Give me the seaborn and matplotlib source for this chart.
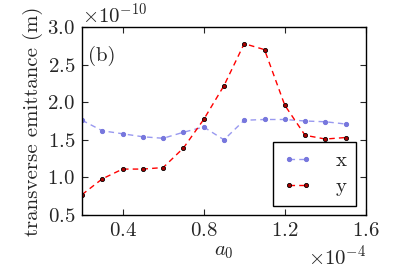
import numpy as np
import pandas as pd
import matplotlib
matplotlib.use("Agg")
import matplotlib.pyplot as plt
import seaborn as sns

# a0 values (x 1e-4) and emittances (x 1e-10 m)
a0 = [0.2, 0.3, 0.4, 0.5, 0.6, 0.7, 0.8, 0.9, 1.0, 1.1, 1.2, 1.3, 1.4, 1.5]
emit_x = [1.76, 1.62, 1.58, 1.54, 1.52, 1.60, 1.67, 1.50, 1.76, 1.77, 1.77, 1.75, 1.74, 1.71]
emit_y = [0.77, 0.98, 1.11, 1.11, 1.13, 1.39, 1.77, 2.22, 2.78, 2.70, 1.96, 1.56, 1.51, 1.53]

df = pd.DataFrame({
    "a0": np.array(a0) * 1e-4,
    "x": np.array(emit_x) * 1e-10,
    "y": np.array(emit_y) * 1e-10,
})

sns.set_style("ticks")
plt.rcParams["font.family"] = ["cmr10", "DejaVu Serif"]
plt.rcParams["mathtext.fontset"] = "cm"
plt.rcParams["axes.formatter.use_mathtext"] = True
plt.rcParams["font.size"] = 15

fig, ax = plt.subplots(figsize=(4.07, 2.71), dpi=100)

sns.lineplot(data=df, x="a0", y="x", ax=ax, color="#9999f0", linestyle=(0, (4, 3)),
             marker="o", markersize=3, markerfacecolor="#7777dd", markeredgecolor="#7777dd",
             linewidth=1, label="x")
sns.lineplot(data=df, x="a0", y="y", ax=ax, color="red", linestyle=(0, (4, 3)),
             marker="o", markersize=3, markerfacecolor="#aa0000", markeredgecolor="black",
             markeredgewidth=0.6, linewidth=1, label="y")

ax.set_xlim(0.2e-4, 1.6e-4)
ax.set_ylim(0.5e-10, 3.0e-10)
ax.set_xticks(np.array([0.4, 0.8, 1.2, 1.6]) * 1e-4)
ax.set_yticks(np.arange(0.5, 3.01, 0.5) * 1e-10)
ax.ticklabel_format(axis="both", style="sci", scilimits=(0, 0))
ax.tick_params(direction="in", top=True, right=True, length=4, width=0.8, pad=5)
for s in ax.spines.values():
    s.set_linewidth(1)
    s.set_color("black")

ax.set_xlabel("$a_0$", labelpad=2)
ax.set_ylabel("transverse emittance (m)", labelpad=3)
ax.text(0.02, 0.82, "(b)", transform=ax.transAxes)

leg = ax.legend(loc="lower right", numpoints=2, handlelength=1.45, fancybox=False,
                edgecolor="black", framealpha=1, borderpad=0.45, labelspacing=0.35,
                handletextpad=1.1, borderaxespad=0, bbox_to_anchor=(0.965, 0.05))
leg.get_frame().set_linewidth(1)

plt.subplots_adjust(left=0.2015, right=0.899, top=0.90, bottom=0.207)
fig.savefig("out.png", dpi=100)
